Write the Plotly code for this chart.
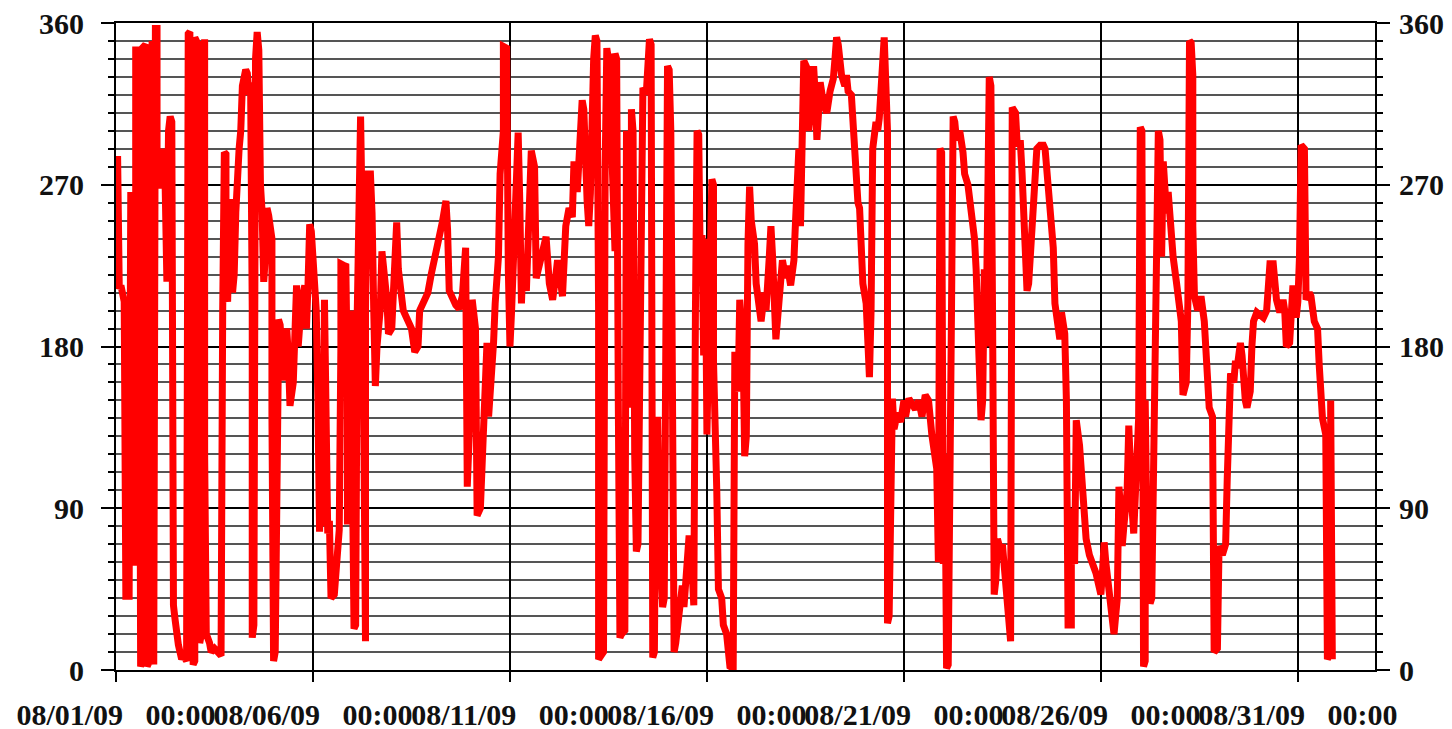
import pandas as pd
import plotly.graph_objects as go

# Arah angin (derajat) selama Agustus 2009, jam sejak 08/01/09 00:00
start = pd.Timestamp("2009-08-01 00:00")

hours = [
    0, 1, 2, 3, 5, 5, 6, 8, 8, 9, 9, 10, 11, 11, 12, 12, 14, 14, 15, 16, 16, 18, 18, 19, 20,
    21, 22, 22, 23, 24, 25, 25, 27, 28, 29, 30, 31, 31, 32, 33, 34, 34, 35, 36, 37, 38, 40, 41,
    43, 43, 44, 45, 46, 47, 48, 48, 50, 50, 51, 52, 53, 54, 54, 55, 57, 58, 60, 63, 64, 65, 66,
    67, 67, 68, 69, 70, 71, 71, 72, 73, 74, 75, 76, 77, 79, 80, 81, 82, 83, 83, 84, 85, 86, 87,
    87, 88, 89, 90, 90, 91, 92, 93, 94, 95, 95, 96, 96, 97, 99, 99, 100, 102, 103, 104, 105,
    106, 108, 109, 110, 111, 112, 113, 115, 116, 117, 118, 119, 121, 122, 123, 124, 125, 126,
    127, 128, 129, 130, 131, 133, 135, 136, 137, 137, 139, 140, 141, 141, 142, 143, 144, 145,
    146, 147, 148, 149, 150, 151, 152, 152, 153, 155, 156, 157, 158, 159, 161, 162, 163, 165,
    166, 168, 169, 171, 172, 174, 175, 177, 180, 182, 184, 185, 188, 190, 192, 194, 196, 197,
    199, 201, 202, 203, 205, 207, 209, 211, 213, 213, 214, 216, 217, 219, 220, 222, 223, 224,
    226, 227, 229, 230, 231, 232, 233, 234, 236, 236, 238, 239, 240, 241, 242, 243, 245, 246,
    247, 248, 249, 250, 253, 255, 256, 258, 262, 264, 266, 268, 269, 271, 272, 274, 276, 278,
    279, 281, 282, 284, 285, 286, 287, 288, 289, 291, 292, 293, 294, 294, 296, 297, 298, 299,
    300, 301, 302, 304, 304, 305, 306, 307, 308, 310, 310, 311, 312, 312, 314, 314, 315, 316,
    317, 318, 319, 320, 321, 323, 324, 325, 326, 327, 327, 328, 329, 330, 331, 333, 334, 336,
    337, 338, 339, 340, 341, 342, 343, 345, 346, 347, 349, 350, 351, 352, 353, 354, 355, 356,
    357, 358, 359, 360, 361, 362, 363, 364, 364, 366, 367, 369, 370, 372, 373, 374, 376, 377,
    378, 379, 380, 382, 383, 384, 385, 386, 387, 389, 390, 391, 393, 395, 396, 398, 399, 400,
    402, 403, 404, 406, 408, 409, 411, 413, 414, 415, 416, 417, 418, 419, 421, 422, 424, 425,
    426, 427, 428, 429, 431, 433, 435, 437, 438, 439, 440, 441, 442, 444, 445, 446, 448, 450,
    451, 452, 453, 454, 455, 457, 458, 459, 460, 461, 463, 464, 465, 466, 467, 468, 470, 470,
    471, 473, 474, 476, 478, 480, 481, 483, 485, 487, 489, 491, 493, 495, 497, 499, 500, 501,
    502, 503, 504, 505, 506, 507, 509, 510, 511, 512, 514, 516, 517, 519, 521, 523, 524, 526,
    527, 528, 529, 530, 532, 533, 534, 535, 536, 537, 539, 540, 542, 544, 545, 546, 548, 549,
    551, 552, 553, 554, 555, 556, 558, 559, 560, 561, 563, 565, 566, 568, 569, 570, 571, 572,
    574, 575, 576, 577, 578, 579, 580, 582, 582, 584, 584, 585, 587, 588, 589, 590, 591, 593,
    595, 597, 598, 600, 601, 602, 603, 604, 606, 607, 608, 610, 611, 612, 613, 614, 616, 617,
    618, 619, 620, 621, 623, 624, 625, 626, 627, 627, 628, 630, 631, 633, 634, 635, 636, 637,
    638, 639, 640, 641, 643, 644, 646, 647, 648, 649, 650, 652, 653, 653, 654, 655, 656, 656,
    657, 659, 661, 663, 664, 665, 666, 668, 669, 669, 671, 672, 674, 676, 677, 678, 679, 681,
    682, 683, 685, 686, 687, 688, 689, 691, 692, 693, 695, 697, 699, 701, 702, 703, 705, 706,
    707, 709, 711, 712, 713, 715, 716, 717, 719, 720, 721, 722, 724, 724, 725, 727, 728, 730,
    732, 733, 734, 735, 737, 737, 738, 740, 740, 741,
]

direction = [
    284, 284, 212, 214, 205, 160, 41, 41, 90, 160, 266, 160, 58, 60, 266, 345, 345, 200, 2, 5,
    346, 348, 100, 2, 4, 349, 350, 120, 3, 357, 357, 290, 268, 290, 284, 267, 218, 216, 300,
    308, 305, 150, 36, 28, 20, 14, 6, 8, 5, 350, 354, 355, 100, 3, 5, 352, 348, 350, 15, 20,
    350, 351, 120, 20, 15, 10, 12, 8, 8, 200, 288, 287, 210, 205, 240, 262, 255, 210, 220, 255,
    287, 290, 300, 325, 334, 332, 320, 327, 200, 18, 25, 340, 355, 345, 290, 270, 255, 230,
    216, 230, 257, 253, 245, 240, 142, 60, 5, 10, 180, 195, 192, 161, 185, 190, 175, 147, 160,
    185, 214, 180, 190, 205, 214, 190, 215, 248, 244, 215, 200, 150, 77, 130, 80, 206, 120, 76,
    83, 40, 42, 60, 78, 180, 226, 225, 226, 160, 81, 164, 200, 140, 23, 25, 200, 308, 308, 250,
    30, 16, 200, 276, 276, 254, 201, 158, 180, 201, 233, 225, 206, 187, 190, 210, 249, 223,
    204, 200, 196, 190, 177, 180, 200, 206, 210, 220, 228, 235, 240, 250, 261, 245, 211, 206,
    203, 201, 208, 235, 233, 102, 150, 206, 190, 86, 90, 119, 150, 182, 141, 163, 182, 204,
    215, 230, 276, 300, 347, 346, 223, 180, 200, 220, 240, 299, 260, 204, 228, 220, 211, 289,
    280, 218, 225, 241, 215, 206, 220, 228, 215, 208, 247, 257, 252, 283, 266, 283, 317, 312,
    270, 261, 247, 265, 340, 353, 350, 200, 6, 8, 10, 280, 346, 340, 343, 290, 233, 343, 340,
    150, 18, 20, 22, 150, 300, 196, 146, 250, 312, 300, 120, 66, 70, 200, 319, 324, 320, 339,
    351, 348, 100, 7, 10, 139, 139, 80, 35, 40, 336, 334, 300, 60, 10, 15, 23, 30, 47, 35, 50,
    73, 73, 60, 36, 200, 300, 298, 220, 242, 175, 240, 131, 200, 242, 273, 270, 172, 100, 45,
    40, 25, 20, 10, 2, 1, 177, 160, 155, 206, 180, 119, 130, 237, 269, 250, 237, 215, 208, 194,
    210, 200, 230, 247, 230, 184, 195, 210, 228, 218, 225, 214, 228, 250, 278, 290, 247, 300,
    339, 335, 300, 320, 336, 320, 295, 310, 327, 315, 310, 322, 329, 340, 352, 348, 341, 331,
    325, 331, 322, 320, 290, 271, 260, 257, 230, 215, 204, 180, 163, 200, 290, 305, 300, 307,
    320, 340, 352, 300, 26, 30, 151, 134, 143, 138, 150, 141, 151, 148, 145, 150, 141, 153, 150,
    131, 120, 112, 60, 290, 288, 59, 120, 1, 3, 200, 308, 305, 295, 300, 288, 276, 270, 257,
    240, 223, 180, 139, 150, 223, 180, 330, 325, 200, 42, 50, 73, 66, 70, 50, 20, 16, 313, 310,
    293, 293, 276, 250, 233, 211, 215, 240, 254, 270, 290, 292, 292, 290, 270, 261, 245, 235,
    204, 190, 184, 199, 195, 187, 150, 25, 25, 90, 59, 100, 139, 125, 112, 105, 90, 73, 64, 60,
    54, 50, 42, 55, 71, 60, 52, 40, 25, 20, 40, 102, 90, 69, 80, 100, 136, 100, 90, 76, 100,
    140, 302, 300, 2, 5, 150, 80, 37, 40, 170, 240, 300, 295, 230, 283, 270, 254, 266, 235, 230,
    216, 210, 204, 194, 153, 160, 204, 260, 350, 349, 331, 247, 208, 200, 208, 194, 180, 165,
    146, 141, 71, 10, 12, 69, 64, 70, 107, 131, 165, 160, 172, 168, 182, 175, 160, 150, 146,
    155, 180, 194, 199, 198, 196, 200, 215, 226, 226, 210, 206, 199, 206, 200, 180, 182, 200,
    214, 196, 205, 230, 292, 290, 283, 206, 210, 208, 194, 190, 170, 155, 140, 131, 95, 6, 10,
    150, 6,
]

tick_dates = ["2009-08-01", "2009-08-06", "2009-08-11", "2009-08-16",
              "2009-08-21", "2009-08-26", "2009-08-31"]
tick_labels = ["08/01/09", "08/06/09", "08/11/09", "08/16/09",
               "08/21/09", "08/26/09", "08/31/09"]
y_ticks = [0, 90, 180, 270, 360]

times = start + pd.to_timedelta(hours, unit="h")
x_end = pd.Timestamp("2009-09-01 23:00")

fnt = dict(family="Liberation Serif", size=30, color="#111111", weight="bold")

fig = go.Figure()
fig.add_trace(go.Scatter(
    x=times, y=direction, mode="lines",
    line=dict(color="#ff0000", width=7),
    name="Arah angin"
))
# salinan tak terlihat supaya sumbu kanan ikut tergambar
fig.add_trace(go.Scatter(
    x=times, y=direction, mode="lines", yaxis="y2",
    line=dict(color="#ff0000", width=1), opacity=0,
    hoverinfo="skip", showlegend=False
))

# halaman html punya margin body 8px, jadi margin figur digeser
fig.update_layout(
    width=1452, height=729,
    margin=dict(l=108, r=85, t=15, b=67),
    paper_bgcolor="white", plot_bgcolor="white",
    showlegend=False,
    xaxis=dict(
        type="date", range=[start, x_end],
        tickvals=tick_dates,
        ticktext=[t + "&nbsp;&nbsp;&nbsp;00:00" for t in tick_labels],
        tickangle=0, automargin=False, ticklabeloverflow="allow",
        ticks="outside", ticklen=10, tickwidth=2, tickcolor="black",
        showgrid=True, gridcolor="black", gridwidth=1.5,
        showline=True, linecolor="black", linewidth=2, mirror=True,
        zeroline=False, tickfont=fnt, ticklabelstandoff=7,
    ),
    yaxis=dict(
        range=[0, 360], tickvals=y_ticks, automargin=False,
        ticklabeloverflow="allow",
        ticks="outside", ticklen=13, tickwidth=2, tickcolor="black",
        showgrid=True, gridcolor="black", gridwidth=2,
        minor=dict(dtick=10, tick0=0, ticks="outside", ticklen=6, tickwidth=2,
                   tickcolor="black", showgrid=True, gridcolor="#555555", gridwidth=1.5),
        showline=True, linecolor="black", linewidth=2,
        zeroline=False, tickfont=fnt, ticklabelstandoff=11,
    ),
    yaxis2=dict(
        overlaying="y", side="right", range=[0, 360], tickvals=y_ticks,
        automargin=False, ticklabeloverflow="allow",
        ticks="outside", ticklen=13, tickwidth=2, tickcolor="black",
        minor=dict(dtick=10, tick0=0, ticks="outside", ticklen=6, tickwidth=2,
                   tickcolor="black", showgrid=False),
        showgrid=False, showline=True, linecolor="black", linewidth=2,
        zeroline=False, tickfont=fnt, ticklabelstandoff=3,
    ),
)

fig.write_html("out.html")
